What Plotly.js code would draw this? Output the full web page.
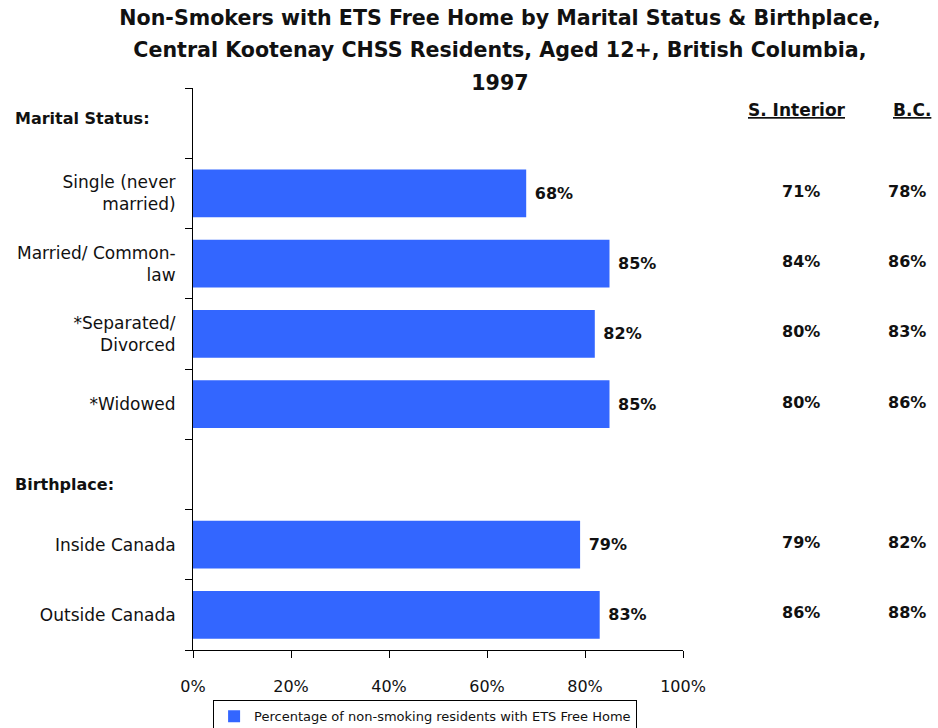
<!DOCTYPE html>
<html>
<head>
<meta charset="utf-8">
<script src="https://cdn.plot.ly/plotly-3.0.1.min.js"></script>
<style>html,body{margin:0;padding:0;background:#fff}#chart{width:938px;height:728px}</style>
</head>
<body>
<div id="chart"></div>
<script>
// Categories, top to bottom (header rows carry no bar)
const categories = ["Marital Status:", "Single (never<br>married)", "Married/ Common-<br>law", "*Separated/<br>Divorced", "*Widowed", "Birthplace:", "Inside Canada", "Outside Canada"];
const headerRows = ["Marital Status:", "Birthplace:"];
// Central Kootenay values (%)
const centralKootenay = [null, 68, 85, 82, 85, null, 79, 83];
// Comparison columns (%)
const sInterior = [null, 71, 84, 80, 80, null, 79, 86];
const bc = [null, 78, 86, 83, 86, null, 82, 88];
const xTicks = [0, 20, 40, 60, 80, 100];
const xTickText = ["0%", "20%", "40%", "60%", "80%", "100%"];
const seriesName = "Percentage of non-smoking residents with ETS Free Home";
const titleLines = ["Non-Smokers with ETS Free Home by Marital Status & Birthplace,", "Central Kootenay CHSS Residents, Aged 12+, British Columbia,", "1997"];

const FONT = "DejaVu Sans, Verdana, sans-serif";
const barColor = "#3366FF";

const trace = {
  type: "bar",
  orientation: "h",
  y: categories,
  x: centralKootenay,
  name: seriesName,
  marker: {color: barColor},
  width: 0.68,
  text: centralKootenay.map(v => v === null ? "" : " " + v + "%"),
  textposition: "outside",
  textfont: {family: FONT, size: 16, color: "#111", weight: "bold"},
  cliponaxis: false,
  hoverinfo: "skip",
  showlegend: true
};

const annotations = [];
headerRows.forEach((h, k) => {
  annotations.push({xref: "paper", yref: "y", x: -0.367, y: h, xanchor: "left", yanchor: "middle",
    yshift: k === 0 ? 5 : -10,
    text: "<b>" + h + "</b>", showarrow: false, font: {family: FONT, size: 16, color: "#111"}});
});
annotations.push({xref: "paper", yref: "paper", x: 1.233, y: 0.961, xanchor: "center", yanchor: "middle",
  text: "<b><u>S. Interior</u></b>", showarrow: false, font: {family: FONT, size: 17, color: "#111"}});
annotations.push({xref: "paper", yref: "paper", x: 1.467, y: 0.961, xanchor: "center", yanchor: "middle",
  text: "<b><u>B.C.</u></b>", showarrow: false, font: {family: FONT, size: 17, color: "#111"}});
categories.forEach((c, i) => {
  if (sInterior[i] !== null) {
    annotations.push({xref: "paper", yref: "y", x: 1.241, y: c, xanchor: "center", yanchor: "middle",
      yshift: 2,
      text: "<b>" + sInterior[i] + "%</b>", showarrow: false, font: {family: FONT, size: 16, color: "#111"}});
  }
  if (bc[i] !== null) {
    annotations.push({xref: "paper", yref: "y", x: 1.457, y: c, xanchor: "center", yanchor: "middle",
      yshift: 2,
      text: "<b>" + bc[i] + "%</b>", showarrow: false, font: {family: FONT, size: 16, color: "#111"}});
  }
});

const layout = {
  width: 938, height: 728,
  margin: {l: 193, r: 255, t: 88, b: 78, pad: 0, autoexpand: false},
  paper_bgcolor: "#fff", plot_bgcolor: "#fff",
  font: {family: FONT, size: 16, color: "#111"},
  title: {
    text: titleLines.map(t => "<span style='font-size:20.6px'>" + t + "</span>").join("<br>"),
    font: {family: FONT, size: 25, color: "#111", weight: "bold"},
    xref: "container", x: 0.533, xanchor: "center",
    yref: "container", y: 0.966, yanchor: "top"
  },
  xaxis: {
    range: [0, 100], tickvals: xTicks, ticktext: xTickText,
    showgrid: false, zeroline: false, showline: true, linecolor: "#000", linewidth: 1,
    ticks: "outside", ticklen: 7, tickcolor: "#000",
    tickfont: {family: FONT, size: 16, color: "#111"},
    ticklabelstandoff: 15, fixedrange: true, automargin: false
  },
  yaxis: {
    type: "category", categoryorder: "array", categoryarray: categories,
    range: [categories.length - 0.5, -0.5],
    tickmode: "array", tickvals: categories,
    ticktext: categories.map(c => headerRows.includes(c) ? "" : c),
    tickson: "boundaries", ticks: "outside", ticklen: 7, tickcolor: "#000",
    showgrid: false, zeroline: false, showline: true, linecolor: "#000", linewidth: 1,
    tickfont: {family: FONT, size: 17, color: "#111"},
    ticklabelstandoff: 13, fixedrange: true, automargin: false
  },
  showlegend: true,
  legend: {
    orientation: "h", x: 0.041, xanchor: "left",
    yref: "container", y: 0.038, yanchor: "top",
    bordercolor: "#000", borderwidth: 1, bgcolor: "#fff",
    font: {family: FONT, size: 13, color: "#111"},
    itemwidth: 30
  },
  annotations: annotations,
  bargap: 0.32
};

Plotly.newPlot("chart", [trace], layout, {displayModeBar: false, staticPlot: true});
</script>
</body>
</html>
